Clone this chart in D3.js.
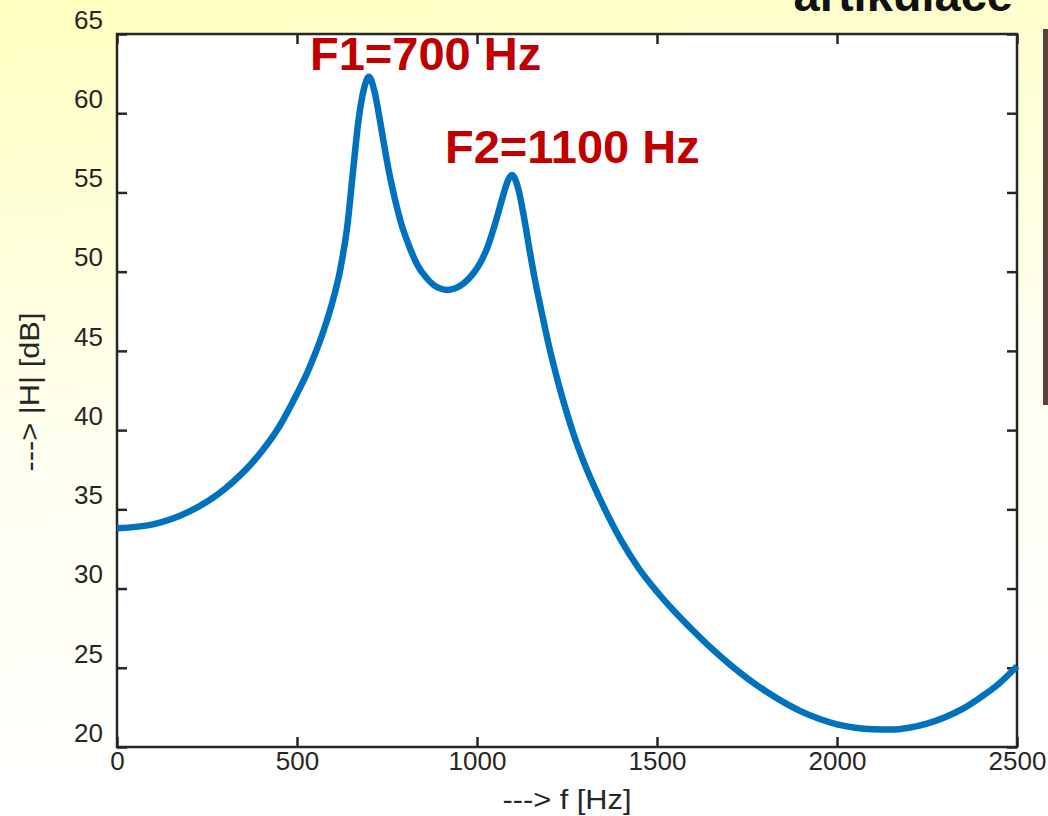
<!DOCTYPE html>
<html>
<head>
<meta charset="utf-8">
<script src="https://cdn.jsdelivr.net/npm/d3@7"></script>
<style>
  html, body { margin: 0; padding: 0; background: #fff; }
  svg { display: block; }
  text { font-family: "Liberation Sans", Arial, Helvetica, sans-serif; }
</style>
</head>
<body>
<svg id="chart" width="1048" height="816"></svg>
<script>
// ---- data ----
const freqHz = [0, 100, 200, 300, 400, 450, 500, 528, 550, 575, 600, 620, 640, 655, 670, 685, 700,
  715, 730, 745, 760, 775, 790, 810, 835, 860, 880, 900, 918, 940, 965, 990, 1010, 1030, 1050, 1070, 1085, 1097,
  1115, 1130, 1145, 1160, 1180, 1200, 1225, 1250, 1275, 1300, 1350, 1400, 1450, 1500, 1550, 1600, 1650,
  1700, 1750, 1800, 1850, 1900, 1950, 2000, 2050, 2100, 2150, 2200, 2250, 2300, 2350, 2400, 2450, 2500];
const magDb = [33.8, 34.05, 34.85, 36.3, 38.6, 40.2, 42.3, 43.6, 44.8, 46.35, 48.22, 50.12, 52.92, 56.2, 59.4, 61.45, 62.3,
  61.4, 59.6, 57.6, 55.8, 54.3, 53.0, 51.7, 50.4, 49.6, 49.15, 48.92, 48.85, 48.95, 49.3, 49.9, 50.6, 51.6, 53.0, 54.6, 55.7, 56.1,
  55.2, 53.5, 51.5, 49.6, 47.4, 45.3, 43.05, 41.05, 39.3, 37.8, 35.25, 33.05, 31.25, 29.8, 28.52, 27.35, 26.25,
  25.25, 24.35, 23.55, 22.85, 22.25, 21.78, 21.43, 21.22, 21.12, 21.1, 21.22, 21.48, 21.88, 22.42, 23.15, 24.0, 25.1];
const xTicks = [0, 500, 1000, 1500, 2000, 2500];
const yTicks = [20, 25, 30, 35, 40, 45, 50, 55, 60, 65];
const annotations = ["F1=700 Hz", "F2=1100 Hz"];
const titleText = "artikulace";
const xLabel = "---> f [Hz]";
const yLabel = "---> |H| [dB]";

// ---- layout ----
const W = 1048, H = 816;
const L = 117, R = 1017, T = 34, B = 747;
const svg = d3.select("#chart");

// background gradient
const defs = svg.append("defs");
const grad = defs.append("linearGradient").attr("id", "bg").attr("x1", 0).attr("y1", 0).attr("x2", 0.15).attr("y2", 1);
grad.append("stop").attr("offset", "0%").attr("stop-color", "#ffffc0");
grad.append("stop").attr("offset", "55%").attr("stop-color", "#fffff0");
grad.append("stop").attr("offset", "100%").attr("stop-color", "#ffffff");
svg.append("rect").attr("width", W).attr("height", H).attr("fill", "url(#bg)");

// brown bar at right edge
svg.append("rect").attr("x", 1043).attr("y", 29).attr("width", 5).attr("height", 376).attr("fill", "#5c4039");

// title (cut off at top, as in the reference)
svg.append("text").attr("x", 1013).attr("y", 11).attr("text-anchor", "end")
  .attr("font-size", 47).attr("font-weight", "bold").attr("fill", "#111").text(titleText);

// plot area
svg.append("rect").attr("x", L).attr("y", T).attr("width", R - L).attr("height", B - T).attr("fill", "#fff");

const x = d3.scaleLinear().domain([0, 2500]).range([L, R]);
const y = d3.scaleLinear().domain([20, 65]).range([B, T]);

const axisColor = "#262626";

function styleAxis(g) {
  g.select(".domain").remove();
  g.selectAll(".tick line").attr("stroke", axisColor).attr("stroke-width", 2.5);
  g.selectAll(".tick text").attr("fill", axisColor).attr("font-size", 26)
    .attr("font-family", "'Liberation Sans', Arial, sans-serif");
}

// bottom axis
svg.append("g").attr("transform", `translate(0,${B})`)
  .call(d3.axisBottom(x).tickValues(xTicks).tickSize(-10).tickPadding(5).tickFormat(d3.format("d")))
  .call(styleAxis);
// top axis (ticks only)
svg.append("g").attr("transform", `translate(0,${T})`)
  .call(d3.axisTop(x).tickValues(xTicks).tickSize(-10).tickFormat(""))
  .call(styleAxis);
// left axis
svg.append("g").attr("transform", `translate(${L},0)`)
  .call(d3.axisLeft(y).tickValues(yTicks).tickSize(-10).tickPadding(14).tickFormat(d3.format("d")))
  .call(styleAxis)
  .call(g => g.selectAll(".tick text").attr("y", -14));
// right axis (ticks only)
svg.append("g").attr("transform", `translate(${R},0)`)
  .call(d3.axisRight(y).tickValues(yTicks).tickSize(-10).tickFormat(""))
  .call(styleAxis);

// frame
svg.append("rect").attr("x", L).attr("y", T).attr("width", R - L).attr("height", B - T)
  .attr("fill", "none").attr("stroke", axisColor).attr("stroke-width", 2.5);

// curve
const pts = freqHz.map((f, i) => [f, magDb[i]]);
const line = d3.line().x(d => x(d[0])).y(d => y(d[1])).curve(d3.curveMonotoneX);
svg.append("path").datum(pts).attr("d", line)
  .attr("fill", "none").attr("stroke", "#0072bd").attr("stroke-width", 6.5)
  .attr("stroke-linejoin", "round").attr("stroke-linecap", "butt");

// annotations
svg.append("text").attr("x", 310).attr("y", 70).attr("font-size", 47).attr("font-weight", "bold")
  .attr("fill", "#c00000").text(annotations[0]);
svg.append("text").attr("x", 445).attr("y", 163).attr("font-size", 47).attr("font-weight", "bold")
  .attr("fill", "#c00000").text(annotations[1]);

// axis labels
svg.append("text").attr("x", 567).attr("y", 809).attr("text-anchor", "middle")
  .attr("font-size", 28).attr("fill", axisColor)
  .attr("textLength", 129).attr("lengthAdjust", "spacingAndGlyphs").text(xLabel);
svg.append("text").attr("transform", "translate(39,392) rotate(-90)").attr("text-anchor", "middle")
  .attr("font-size", 28).attr("fill", axisColor)
  .attr("textLength", 159).attr("lengthAdjust", "spacingAndGlyphs").text(yLabel);
</script>
</body>
</html>
